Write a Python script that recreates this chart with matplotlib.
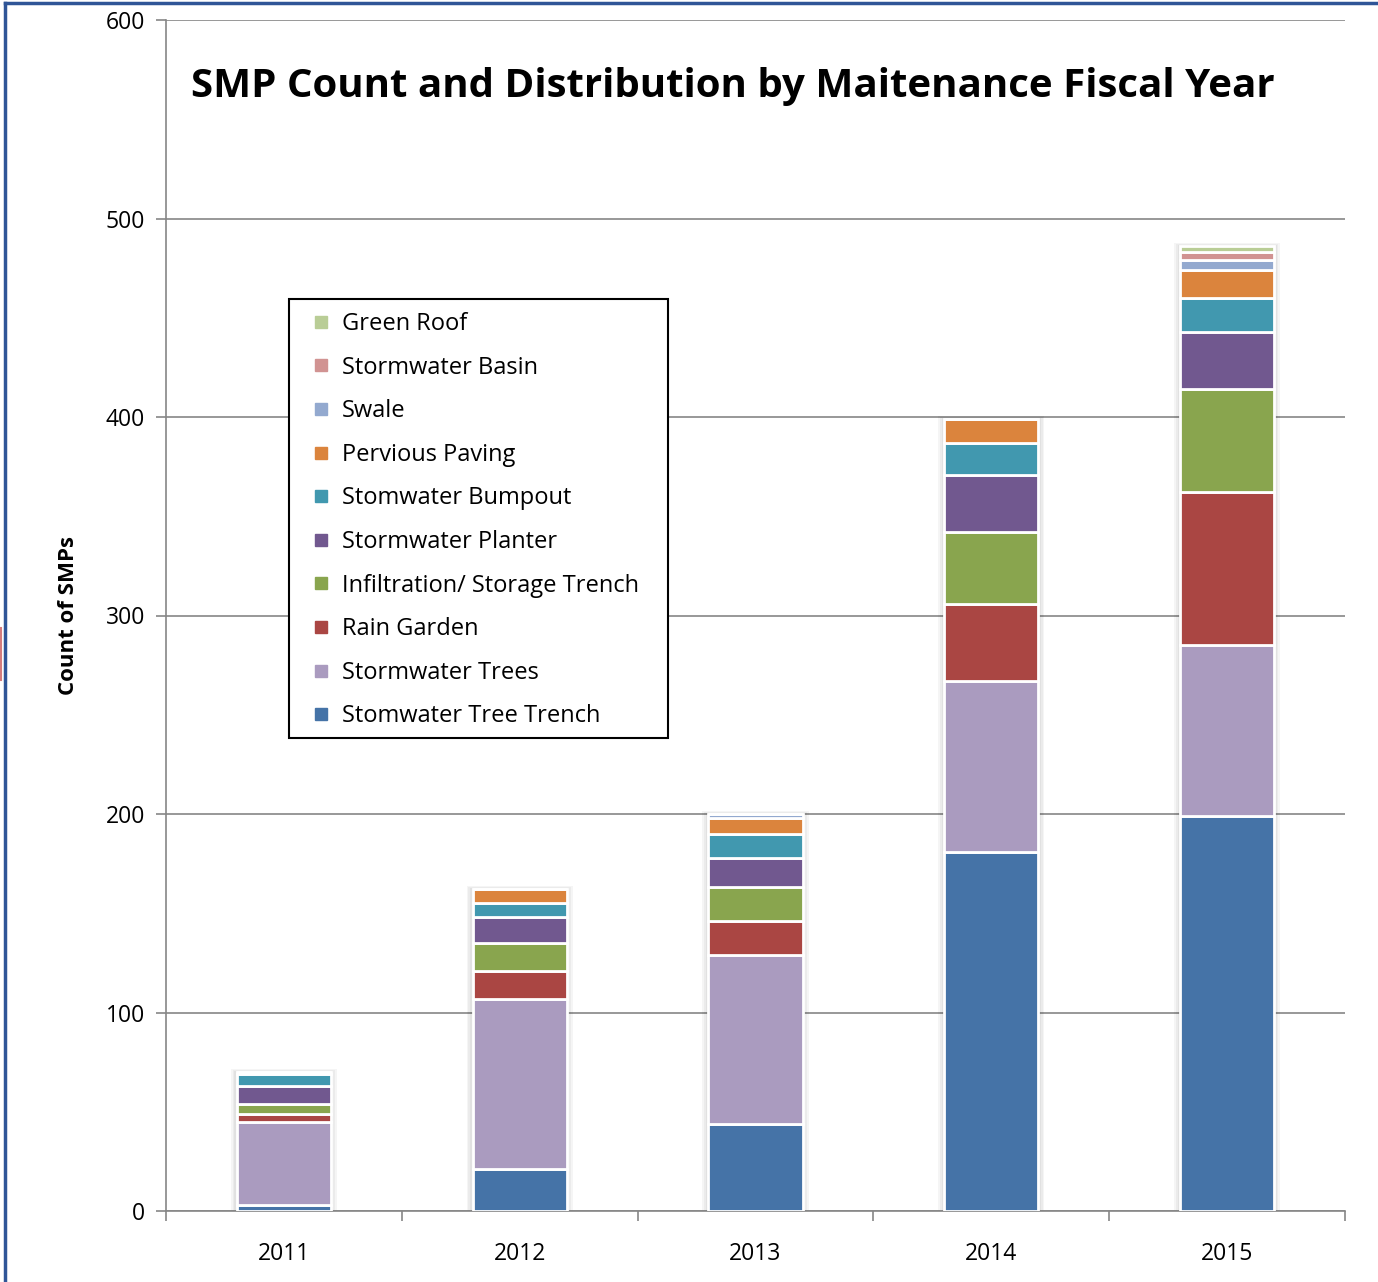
import numpy as np
import matplotlib.pyplot as plt
from matplotlib.patches import Rectangle
from matplotlib.lines import Line2D

# Data
years = ["2011", "2012", "2013", "2014", "2015"]
tree_trench = [3, 21, 44, 181, 199]
trees = [42, 86, 85, 86, 86]
rain_garden = [4, 14, 17, 39, 77]
infiltration = [5, 14, 17, 36, 52]
planter = [9, 13, 15, 29, 29]
bumpout = [6, 7, 12, 16, 17]
pervious = [1, 7, 8, 12, 14]
swale = [0, 0, 2, 0, 5]
basin = [0, 0, 0, 0, 4]
green_roof = [0, 0, 0, 0, 3]

series = [
    ("Stomwater Tree Trench", tree_trench, "#4573a7"),
    ("Stormwater Trees", trees, "#aa9bbf"),
    ("Rain Garden", rain_garden, "#aa4643"),
    ("Infiltration/ Storage Trench", infiltration, "#89a54e"),
    ("Stormwater Planter", planter, "#71588f"),
    ("Stomwater Bumpout", bumpout, "#4198af"),
    ("Pervious Paving", pervious, "#db843d"),
    ("Swale", swale, "#93a9cf"),
    ("Stormwater Basin", basin, "#d19392"),
    ("Green Roof", green_roof, "#b9cd96"),
]

plt.rcParams['font.family'] = ['Open Sans', 'DejaVu Sans']

W, H = 1378, 1282
fig = plt.figure(figsize=(W / 100, H / 100), dpi=100)
ax = fig.add_axes([166 / W, 1 - 1211 / H, (1345 - 166) / W, (1211 - 20) / H])

x = np.arange(len(years))
width = 0.4

# soft shadow behind each stack
totals = np.sum([s[1] for s in series], axis=0)
for k in range(3):
    ax.bar(x, totals + 1.5 - k * 0.5, width=width + 0.05 - k * 0.015, color="#000000",
           alpha=0.04, zorder=2, linewidth=0)

bottom = np.zeros(len(years))
for name, vals, col in series:
    vals = np.array(vals, dtype=float)
    ax.bar(x, vals, width=width, bottom=bottom, color=col, edgecolor="white",
           linewidth=2, zorder=3)
    bottom += vals

ax.set_xlim(-0.5, 4.5)
ax.set_ylim(0, 600)
ax.set_yticks(np.arange(0, 601, 100))
ax.set_xticks(x)
ax.set_xticklabels(years, fontsize=16.5)
ax.set_xticks(np.arange(-0.5, 4.6, 1), minor=True)
ax.tick_params(axis="x", which="major", length=0, pad=22)
ax.tick_params(axis="x", which="minor", length=7, color="#868686", width=1.2)
ax.tick_params(axis="y", length=7, color="#868686", width=1.2, labelsize=16.5, pad=8,
               direction="out")
ax.yaxis.grid(True, color="#868686", linewidth=1.2, zorder=0)
ax.set_axisbelow(True)
for side in ["top", "right"]:
    ax.spines[side].set_visible(False)
ax.spines["left"].set_color("#868686")
ax.spines["bottom"].set_color("#868686")
ax.spines["left"].set_linewidth(1.2)
ax.spines["bottom"].set_linewidth(1.2)

ax.set_ylabel("Count of SMPs", fontsize=16, fontweight="bold", labelpad=19)

fig.text(191 / W, 1 - 87 / H, "SMP Count and Distribution by Maitenance Fiscal Year",
         fontsize=29, fontweight="bold", va="center", ha="left")

# legend: white box with black border, entries in reverse stacking order
fig.add_artist(Rectangle((289 / W, 1 - 738 / H), (668 - 289) / W, (738 - 299) / H,
                         facecolor="white", edgecolor="black", linewidth=1.5,
                         transform=fig.transFigure, zorder=4))
handles = [Line2D([], [], marker="s", linestyle="none", markersize=9,
                  markerfacecolor=col, markeredgecolor=col) for _, _, col in series]
labels = [name for name, _, _ in series]
leg = ax.legend(handles[::-1], labels[::-1], loc="upper left",
                bbox_to_anchor=((289 - 166) / 1179, 1 - (299 - 20) / 1191),
                fontsize=17, frameon=False,
                handlelength=1.6, handletextpad=0.1,
                labelspacing=0.83, borderpad=0.55, borderaxespad=0)
leg.set_zorder(5)
fig.add_artist(leg)

# outer border lines of the original slide
fig.add_artist(Line2D([5 / W, 5 / W], [0, 1 - 3 / H], color="#2f5597",
                      linewidth=2.5, transform=fig.transFigure))
fig.add_artist(Line2D([5 / W, 1], [1 - 3 / H, 1 - 3 / H], color="#2f5597",
                      linewidth=2.5, transform=fig.transFigure))
fig.add_artist(Rectangle((-0.01, 1 - 680 / H), 15 / W, 52 / H, fill=False,
                         edgecolor="#d47c7c", linewidth=1.5, transform=fig.transFigure))

fig.savefig("out.png", dpi=100)
